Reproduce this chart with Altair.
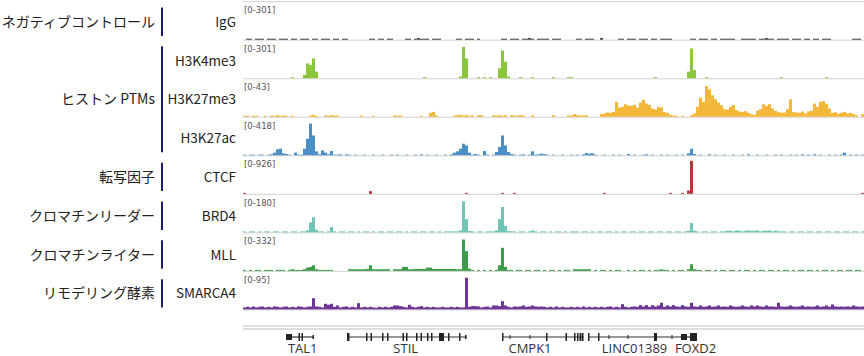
import altair as alt
import pandas as pd

# ---------------- data ----------------
TRACKS = ["IgG", "H3K4me3", "H3K27me3", "H3K27ac", "CTCF", "BRD4", "MLL", "SMARCA4"]
RANGES = ["[0-301]", "[0-301]", "[0-43]", "[0-418]", "[0-926]", "[0-180]", "[0-332]", "[0-95]"]
COLORS = ["#3a3a3a", "#8cc63e", "#f3b73b", "#4a8fc5", "#b03a3a", "#72c5b4", "#3d9c4a", "#6e3596"]

GROUPS = ["ネガティブコントロール", "ヒストン PTMs", "転写因子", "クロマチンリーダー", "クロマチンライター", "リモデリング酵素"]
GROUP_FIRST = [0, 1, 4, 5, 6, 7]
GROUP_LAST = [0, 3, 4, 5, 6, 7]

BIN = 3  # genomic units per bin (region spans 0..621)

# signal, percent of each track's data range, one value per bin
IGG = [0,3,3,0,3,3,3,0,3,3, 3,0,3,3,3,0,3,3,0,3, 3,3,0,3,3,0,3,3,3,0, 3,3,0,3,3,0,0,0,0,0,
       0,0,3,3,0,3,3,0,3,3, 0,0,0,0,3,3,0,3,5,3, 3,3,0,3,3,3,0,0,0,0, 0,3,3,0,3,3,3,0,3,0,
       0,0,0,0,0,0,3,3,0,3, 3,3,0,3,3,5,3,0,3,3, 3,3,0,3,3,3,0,0,0,0, 0,3,3,0,3,3,3,0,0,5,
       0,0,0,0,0,3,3,0,3,3, 3,0,3,3,3,0,3,3,0,3, 3,3,3,0,0,0,0,0,0,3, 3,0,3,3,3,0,3,3,0,3,
       3,3,3,3,0,0,3,3,3,3, 3,0,3,3,5,3,3,0,3,3, 3,3,0,3,3,3,0,3,3,0, 3,3,0,3,3,3,0,0,0,0,
       0,0,0,3,3,3,0]

H3K4ME3 = {16: 3, 20: 10, 21: 45, 22: 40, 23: 60, 24: 20, 60: 3, 72: 5, 73: 95, 74: 60,
           78: 3, 80: 3, 82: 3, 85: 30, 86: 84, 87: 50, 88: 5, 92: 3, 96: 3, 103: 3,
           108: 3, 109: 3, 137: 3, 148: 20, 149: 90, 150: 25, 154: 3, 179: 3, 194: 3}

H3K27ME3 = [3,3,0,3,3,0,0,3,0,3, 3,5,3,4,3,0,3,0,0,0, 0,0,4,6,3,0,0,4,3,5, 3,4,0,0,0,0,0,0,0,3,
            0,0,0,3,0,0,0,0,0,0, 4,3,4,0,0,0,0,0,0,3, 0,0,12,15,4,0,0,0,0,0, 4,5,6,4,5,3,4,0,5,5,
            0,0,0,5,4,5,3,5,0,5, 4,3,5,4,0,0,4,0,0,0, 0,0,0,5,0,0,0,0,4,4, 8,5,4,4,5,0,0,0,0,8,
            10,13,12,15,45,28,30,38,34,33, 36,28,43,52,40,36,25,22,30,28, 14,12,6,4,3,0,3,0,0,5,
            10,30,58,45,93,83,65,53,43,35, 23,22,30,36,20,16,15,17,12,8, 6,18,23,38,33,38,25,18,14,12,
            13,23,53,14,13,12,16,10,16,18, 40,30,45,48,40,25,12,14,9,12, 15,10,12,8,4,0,8]

H3K27AC = [2,0,2,2,0,2,2,0,2,3, 8,18,20,6,4,2,0,8,2,2, 20,50,96,60,12,3,15,8,3,13, 2,2,3,0,3,2,0,2,0,0,
           2,0,0,2,0,0,2,0,0,2, 0,2,0,0,2,0,0,2,0,3, 0,2,0,0,2,0,0,2,0,3, 8,12,20,35,30,8,2,4,2,0,
           13,2,0,2,10,25,60,30,10,4, 2,0,2,3,0,2,12,2,3,5, 4,2,0,2,0,0,2,0,0,2, 0,2,0,3,7,5,6,2,0,0,
           2,0,0,2,0,2,0,0,4,0, 2,0,0,2,3,0,2,0,0,2, 0,2,0,0,2,0,2,0,6,20, 4,0,2,0,0,3,0,2,0,0,
           2,0,0,2,0,0,2,0,3,0, 0,2,0,0,2,0,0,2,0,2, 0,0,2,0,2,0,3,0,2,0, 3,0,2,0,0,2,0,2,0,2,
           8,0,2,0,2,0,2]

CTCF = {0: 3, 42: 8, 74: 3, 86: 3, 90: 3, 120: 3, 142: 3, 146: 3, 148: 10, 149: 100, 206: 3}

BRD4 = [3,0,3,3,0,3,0,3,3,0, 3,3,0,3,3,0,3,3,0,3, 3,6,30,46,8,3,3,0,3,16, 3,0,3,3,0,3,3,0,3,0,
        3,3,0,3,0,3,3,0,3,3, 0,3,3,0,3,0,3,3,0,3, 3,0,3,3,0,3,0,3,3,3, 3,3,6,94,40,4,3,0,3,3,
        0,3,3,3,6,40,77,20,4,3, 3,0,3,3,0,3,6,3,0,3, 3,0,3,0,3,3,0,3,0,3, 3,3,0,3,3,0,3,0,3,3,
        0,3,3,0,3,0,3,3,0,3, 3,0,3,3,0,3,3,0,3,3, 0,3,3,0,3,3,0,3,5,28, 5,3,0,3,3,0,3,3,0,3,
        3,5,5,3,6,5,3,5,6,5, 5,6,3,5,5,6,3,5,3,3, 3,0,3,3,0,3,3,0,3,3, 0,3,3,0,3,3,0,3,3,0,
        3,3,0,3,3,0,3]

MLL = [3,0,3,0,3,3,0,3,3,3, 0,3,3,3,0,3,5,3,3,3, 5,10,12,17,5,3,3,3,3,3, 0,0,0,0,0,5,5,5,5,5,
       5,6,17,5,5,5,5,5,5,0, 5,5,5,12,12,5,5,6,6,6, 6,10,10,6,6,6,6,6,6,6, 6,5,5,95,60,7,3,0,3,0,
       3,0,3,0,3,17,70,12,3,3, 0,3,3,0,3,3,0,3,3,0, 3,0,3,3,0,3,0,3,3,0, 5,5,5,5,5,5,0,3,0,3,
       3,0,3,0,3,3,0,0,3,0, 3,0,3,3,0,3,0,3,3,5, 3,3,0,3,0,3,3,0,5,20, 5,3,3,0,3,3,0,3,0,3,
       3,0,3,3,0,3,0,3,3,0, 3,0,3,3,0,3,3,0,3,0, 3,3,0,3,0,3,3,0,3,3, 0,3,0,3,3,0,3,0,3,3,
       0,3,3,0,3,3,0]

SMARCA4 = [6,8,6,9,6,8,9,6,8,6, 9,8,6,8,9,6,8,6,9,8, 6,8,9,34,9,8,6,17,14,17, 8,12,6,8,9,6,8,6,19,6,
           8,6,8,6,5,8,6,8,6,8, 12,12,10,8,6,14,8,6,8,10, 6,8,6,8,6,6,8,6,6,8, 6,8,6,6,96,8,10,10,9,6,
           8,9,6,12,12,10,25,12,8,6, 9,8,9,12,8,9,12,9,8,9, 8,6,8,6,9,6,8,6,6,8, 6,8,6,9,6,8,6,8,6,8,
           6,8,9,6,8,6,16,8,6,8, 9,8,13,9,13,8,13,9,12,20, 8,12,9,13,9,8,13,9,8,20, 9,8,12,8,9,12,8,9,12,8,
           9,8,12,9,8,9,12,9,8,12, 9,12,9,8,12,9,9,8,20,9, 8,9,12,9,8,9,12,8,9,8, 9,12,8,9,12,8,15,9,8,9,
           8,9,8,12,9,8,9]

SIGNALS = [IGG, H3K4ME3, H3K27ME3, H3K27AC, CTCF, BRD4, MLL, SMARCA4]

# gene annotation (same genomic units)
GENE_NAMES = ["TAL1", "STIL", "CMPK1", "LINC01389", "FOXD2"]
GENE_START = [43, 104, 259, 345, 437]
GENE_END = [71, 223.5, 340.5, 437, 454]
GENE_LABEL_POS = [59.7, 162.7, 287, 391.5, 452.5]
EXON_TALL = [(55.5, 57), (58.5, 60), (104, 106.5), (123, 124.5), (127.5, 129), (139, 140.5),
             (144, 145.5), (159.5, 161), (163, 164.5), (173, 174.5), (177.5, 179), (184, 185.5),
             (188, 189.5), (196, 201), (205, 206.5), (216, 217.5), (259, 260.5), (303, 304.5),
             (322.5, 324), (331, 332.5), (334, 335.5), (336.5, 338), (338.5, 340.5), (345, 346.5),
             (355, 356.5), (411, 414), (447, 454)]
EXON_MED = [(43, 49), (438, 444)]
EXON_SMALL = [(69.5, 71), (222, 223.5), (266.5, 267.5), (286.5, 287.5), (365.5, 366.5),
              (384.5, 385.5), (428.5, 429.5)]

# ---------------- layout ----------------
X0, X1 = 243, 864
BASE0, STEP, FULL = 39.7, 38.53, 33
LAB0, LSTEP = 22.7, 38.8
JP_FONT = "Noto Sans CJK JP"

XS = alt.Scale(domain=[0, 621], range=[X0, X1], nice=False, zero=False)

rows = []
for name, series in zip(TRACKS, SIGNALS):
    items = sorted(series.items()) if isinstance(series, dict) else list(enumerate(series))
    for i, v in items:
        if v > 0:
            rows.append({"track": name, "start": i * BIN, "end": (i + 1) * BIN, "v": v, "zero": 0})
sig = pd.DataFrame(rows)

layers = []

# separator / baseline lines
sep = pd.DataFrame({"k": list(range(9))})
layers.append(
    alt.Chart(sep).mark_rule(color="#d2d2d2", strokeWidth=1).encode(
        x=alt.value(X0), x2=alt.value(X1),
        y=alt.Y("k:Q", axis=None,
                scale=alt.Scale(domain=[0, 8], range=[BASE0 - STEP + 0.5, BASE0 + 7 * STEP + 0.5], nice=False)),
    )
)

# signal tracks
for t, name in enumerate(TRACKS):
    b = BASE0 + STEP * t
    layers.append(
        alt.Chart(sig[sig.track == name]).mark_rect(color=COLORS[t], strokeWidth=0).encode(
            x=alt.X("start:Q", scale=XS, axis=None),
            x2="end:Q",
            y=alt.Y("v:Q", axis=None, scale=alt.Scale(domain=[0, 100], range=[b, b - FULL], nice=False)),
            y2="zero:Q",
        )
    )

info = pd.DataFrame({"name": TRACKS, "idx": list(range(8)), "rng": RANGES})

# data range labels
layers.append(
    alt.Chart(info).mark_text(align="left", baseline="middle", font="DejaVu Sans", fontSize=8.5, color="#555").encode(
        x=alt.value(X0 + 1),
        y=alt.Y("idx:Q", axis=None,
                scale=alt.Scale(domain=[0, 7], range=[BASE0 - 29.5, BASE0 + 7 * STEP - 29.5], nice=False)),
        text="rng:N",
    )
)

# track names
layers.append(
    alt.Chart(info).mark_text(align="right", baseline="middle", font=JP_FONT, fontSize=13.5, color="#222").encode(
        x=alt.value(236),
        y=alt.Y("idx:Q", axis=None, scale=alt.Scale(domain=[0, 7], range=[LAB0, LAB0 + 7 * LSTEP], nice=False)),
        text="name:N",
    )
)

groups = pd.DataFrame({"label": GROUPS, "first": GROUP_FIRST, "last": GROUP_LAST})
gscale = alt.Scale(domain=[0, 7], range=[LAB0, LAB0 + 7 * LSTEP], nice=False)
layers.append(
    alt.Chart(groups).transform_calculate(
        y0="datum.first - 0.39", y1="datum.last + 0.34"
    ).mark_rule(color="#1c1c6e", strokeWidth=2).encode(
        x=alt.value(162),
        y=alt.Y("y0:Q", axis=None, scale=gscale),
        y2="y1:Q",
    )
)
layers.append(
    alt.Chart(groups).transform_calculate(
        mid="(datum.first + datum.last) / 2"
    ).mark_text(align="right", baseline="middle", font=JP_FONT, fontSize=14, color="#222").encode(
        x=alt.value(155),
        y=alt.Y("mid:Q", axis=None, scale=gscale),
        text="label:N",
    )
)

# gene track
dbl = pd.DataFrame({"k": [0, 1]})
layers.append(
    alt.Chart(dbl).mark_rule(color="#bdbdbd", strokeWidth=1).encode(
        x=alt.value(X0), x2=alt.value(X1),
        y=alt.Y("k:Q", axis=None, scale=alt.Scale(domain=[0, 1], range=[326, 329], nice=False)),
    )
)
genes = pd.DataFrame({"name": GENE_NAMES, "start": GENE_START, "end": GENE_END, "lab": GENE_LABEL_POS})
layers.append(
    alt.Chart(genes).mark_rule(color="#333", strokeWidth=1.2).encode(
        x=alt.X("start:Q", scale=XS, axis=None), x2="end:Q", y=alt.value(337)
    )
)
for ex, (ya, yb) in [(EXON_TALL, (333, 341)), (EXON_MED, (334, 340)), (EXON_SMALL, (335, 339))]:
    exdf = pd.DataFrame(ex, columns=["start", "end"])
    layers.append(
        alt.Chart(exdf).mark_rect(color="#222").encode(
            x=alt.X("start:Q", scale=XS, axis=None), x2="end:Q", y=alt.value(ya), y2=alt.value(yb)
        )
    )
layers.append(
    alt.Chart(genes).mark_text(baseline="middle", font="Open Sans", fontSize=13, color="#333").encode(
        x=alt.X("lab:Q", scale=XS, axis=None), y=alt.value(348.5), text="name:N"
    )
)

chart = alt.layer(*layers).resolve_scale(y="independent").properties(
    width=864, height=356, autosize=alt.AutoSizeParams(type="none"), padding=0, background="white"
).configure_view(stroke=None)

chart.save("out.html", embed_options={"renderer": "svg", "actions": False})
